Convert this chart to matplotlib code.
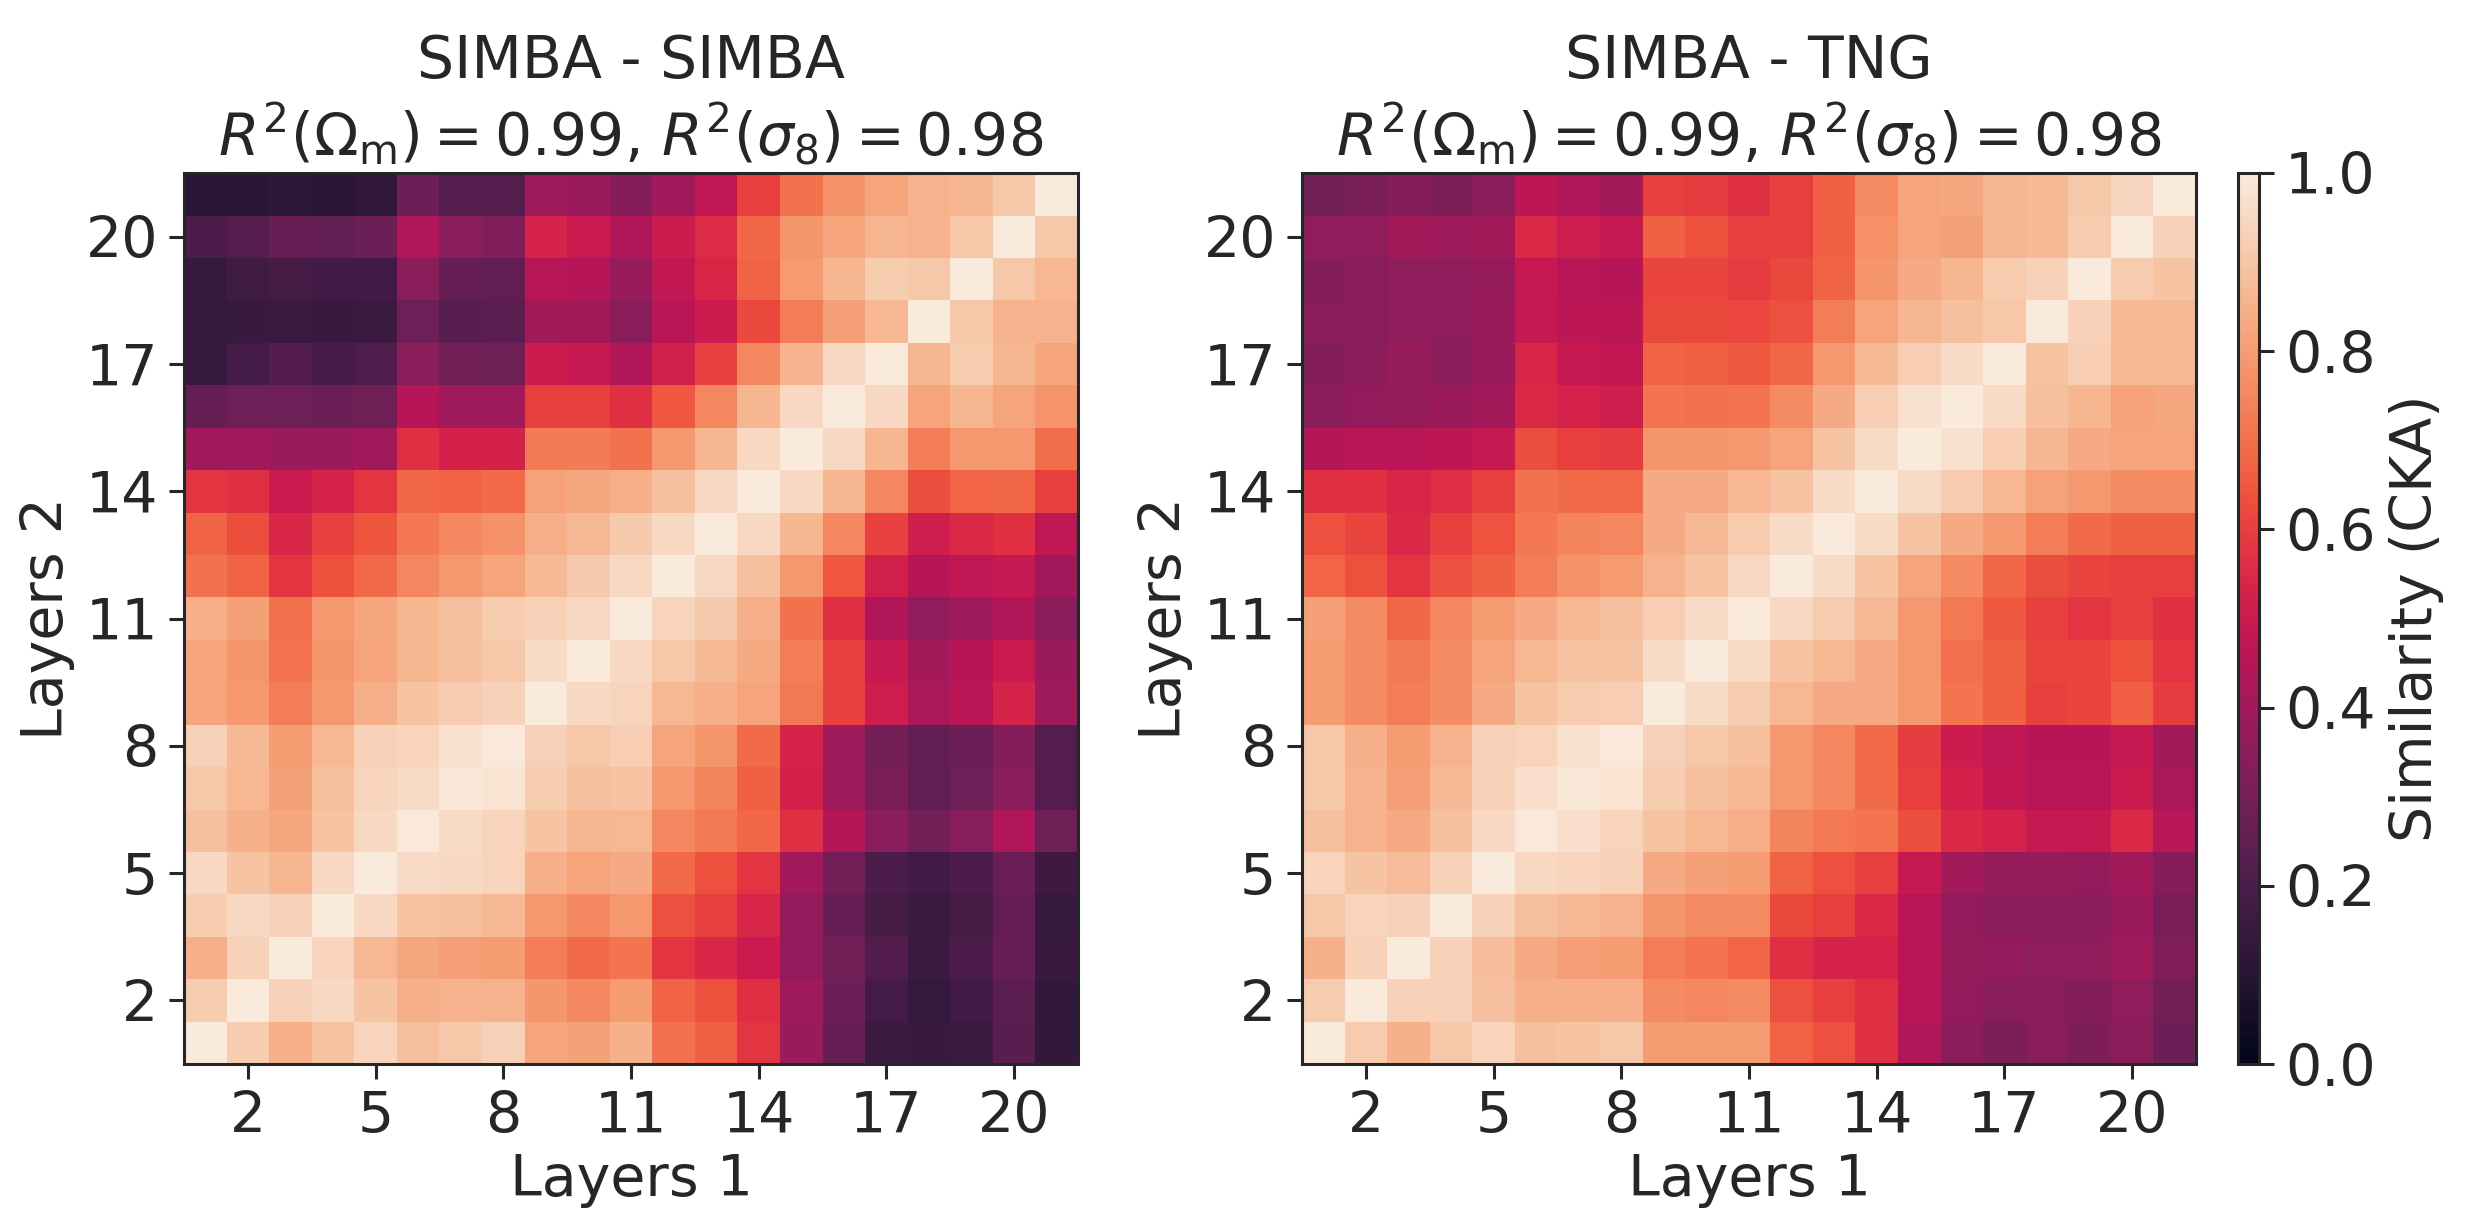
import numpy as np
import matplotlib
matplotlib.use("Agg")
import matplotlib.pyplot as plt
import seaborn as sns

sns.set_theme(style="ticks")
plt.rcParams['font.family'] = ['DejaVu Sans']
plt.rcParams['mathtext.fontset'] = 'dejavusans'

# Layer indices
layers = list(range(1, 22))
tick_layers = [2, 5, 8, 11, 14, 17, 20]

titles = ["SIMBA - SIMBA", "SIMBA - TNG"]
r2_omega = [0.99, 0.99]
r2_sigma = [0.98, 0.98]

# CKA similarity, rows = Layers 2 from 21 (top) down to 1 (bottom), columns = Layers 1 from 1 to 21
simba_simba = [
    [0.12, 0.115, 0.125, 0.12, 0.13, 0.278, 0.222, 0.222, 0.395, 0.39, 0.338, 0.40, 0.475, 0.60, 0.705, 0.775, 0.82, 0.855, 0.86, 0.91, 1.0],
    [0.20, 0.225, 0.268, 0.25, 0.27, 0.44, 0.35, 0.325, 0.535, 0.50, 0.44, 0.505, 0.555, 0.68, 0.785, 0.82, 0.86, 0.855, 0.905, 1.0, 0.91],
    [0.147, 0.168, 0.185, 0.173, 0.173, 0.345, 0.268, 0.25, 0.455, 0.453, 0.38, 0.478, 0.54, 0.675, 0.795, 0.86, 0.92, 0.905, 1.0, 0.91, 0.865],
    [0.145, 0.15, 0.16, 0.155, 0.16, 0.288, 0.233, 0.24, 0.405, 0.405, 0.355, 0.455, 0.505, 0.62, 0.73, 0.805, 0.865, 1.0, 0.91, 0.855, 0.855],
    [0.147, 0.183, 0.215, 0.188, 0.21, 0.355, 0.295, 0.285, 0.505, 0.49, 0.44, 0.52, 0.605, 0.752, 0.857, 0.95, 1.0, 0.86, 0.92, 0.86, 0.82],
    [0.258, 0.288, 0.288, 0.27, 0.285, 0.453, 0.398, 0.398, 0.60, 0.60, 0.565, 0.65, 0.752, 0.86, 0.95, 1.0, 0.95, 0.82, 0.86, 0.82, 0.78],
    [0.40, 0.40, 0.38, 0.385, 0.40, 0.565, 0.525, 0.525, 0.725, 0.725, 0.705, 0.79, 0.86, 0.95, 1.0, 0.95, 0.86, 0.73, 0.79, 0.79, 0.695],
    [0.575, 0.565, 0.50, 0.535, 0.58, 0.68, 0.672, 0.685, 0.815, 0.827, 0.845, 0.885, 0.95, 1.0, 0.95, 0.86, 0.75, 0.63, 0.677, 0.68, 0.598],
    [0.672, 0.63, 0.54, 0.605, 0.645, 0.715, 0.755, 0.775, 0.845, 0.87, 0.912, 0.95, 1.0, 0.95, 0.86, 0.75, 0.605, 0.515, 0.55, 0.567, 0.47],
    [0.705, 0.675, 0.58, 0.64, 0.685, 0.75, 0.79, 0.82, 0.87, 0.912, 0.95, 1.0, 0.95, 0.885, 0.79, 0.65, 0.52, 0.45, 0.47, 0.49, 0.40],
    [0.845, 0.81, 0.707, 0.79, 0.822, 0.86, 0.89, 0.92, 0.93, 0.95, 1.0, 0.94, 0.912, 0.845, 0.705, 0.565, 0.44, 0.365, 0.398, 0.44, 0.345],
    [0.82, 0.783, 0.71, 0.783, 0.82, 0.86, 0.89, 0.905, 0.96, 1.0, 0.95, 0.905, 0.87, 0.83, 0.728, 0.605, 0.49, 0.41, 0.45, 0.50, 0.385],
    [0.82, 0.79, 0.73, 0.79, 0.845, 0.895, 0.915, 0.935, 1.0, 0.95, 0.94, 0.865, 0.845, 0.82, 0.722, 0.605, 0.51, 0.42, 0.46, 0.535, 0.395],
    [0.933, 0.868, 0.80, 0.865, 0.935, 0.94, 0.975, 0.995, 0.933, 0.905, 0.925, 0.82, 0.782, 0.688, 0.535, 0.395, 0.293, 0.255, 0.272, 0.335, 0.222],
    [0.905, 0.865, 0.81, 0.885, 0.94, 0.96, 0.99, 0.98, 0.92, 0.885, 0.895, 0.79, 0.745, 0.67, 0.527, 0.398, 0.31, 0.25, 0.288, 0.35, 0.222],
    [0.885, 0.85, 0.827, 0.895, 0.95, 0.995, 0.96, 0.94, 0.895, 0.86, 0.865, 0.75, 0.72, 0.68, 0.565, 0.448, 0.35, 0.293, 0.343, 0.44, 0.285],
    [0.95, 0.895, 0.86, 0.95, 1.0, 0.96, 0.95, 0.94, 0.845, 0.82, 0.833, 0.688, 0.64, 0.578, 0.40, 0.293, 0.20, 0.175, 0.20, 0.27, 0.165],
    [0.92, 0.95, 0.935, 1.0, 0.95, 0.895, 0.89, 0.87, 0.79, 0.757, 0.79, 0.635, 0.60, 0.537, 0.373, 0.268, 0.185, 0.16, 0.185, 0.258, 0.143],
    [0.845, 0.935, 1.0, 0.94, 0.865, 0.822, 0.808, 0.80, 0.73, 0.69, 0.71, 0.575, 0.545, 0.50, 0.373, 0.29, 0.218, 0.16, 0.20, 0.268, 0.15],
    [0.92, 1.0, 0.935, 0.95, 0.895, 0.845, 0.855, 0.855, 0.788, 0.757, 0.80, 0.672, 0.64, 0.565, 0.395, 0.278, 0.18, 0.143, 0.175, 0.24, 0.135],
    [1.0, 0.92, 0.845, 0.895, 0.94, 0.885, 0.905, 0.933, 0.82, 0.81, 0.85, 0.707, 0.67, 0.578, 0.39, 0.268, 0.16, 0.15, 0.16, 0.23, 0.135],
]

simba_tng = [
    [0.29, 0.31, 0.338, 0.322, 0.347, 0.465, 0.432, 0.41, 0.60, 0.59, 0.565, 0.60, 0.67, 0.76, 0.82, 0.828, 0.86, 0.872, 0.91, 0.945, 1.0],
    [0.365, 0.365, 0.405, 0.395, 0.41, 0.55, 0.51, 0.492, 0.67, 0.64, 0.605, 0.60, 0.67, 0.77, 0.82, 0.81, 0.86, 0.872, 0.915, 1.0, 0.935],
    [0.335, 0.345, 0.36, 0.36, 0.378, 0.49, 0.455, 0.45, 0.612, 0.612, 0.59, 0.62, 0.675, 0.782, 0.835, 0.86, 0.915, 0.935, 1.0, 0.915, 0.895],
    [0.345, 0.345, 0.36, 0.36, 0.385, 0.49, 0.465, 0.465, 0.62, 0.62, 0.615, 0.635, 0.73, 0.82, 0.86, 0.885, 0.905, 1.0, 0.935, 0.87, 0.87],
    [0.335, 0.355, 0.378, 0.355, 0.385, 0.537, 0.49, 0.48, 0.675, 0.67, 0.655, 0.68, 0.79, 0.87, 0.925, 0.96, 1.0, 0.895, 0.925, 0.87, 0.87],
    [0.355, 0.373, 0.378, 0.385, 0.41, 0.55, 0.53, 0.515, 0.71, 0.705, 0.71, 0.76, 0.835, 0.925, 0.975, 1.0, 0.96, 0.885, 0.86, 0.815, 0.828],
    [0.448, 0.458, 0.458, 0.465, 0.492, 0.63, 0.60, 0.59, 0.785, 0.785, 0.79, 0.82, 0.895, 0.96, 1.0, 0.975, 0.925, 0.86, 0.835, 0.82, 0.82],
    [0.57, 0.568, 0.537, 0.56, 0.60, 0.707, 0.69, 0.69, 0.835, 0.835, 0.865, 0.895, 0.96, 1.0, 0.96, 0.915, 0.865, 0.815, 0.79, 0.765, 0.76],
    [0.635, 0.612, 0.55, 0.605, 0.643, 0.715, 0.745, 0.75, 0.835, 0.87, 0.915, 0.96, 1.0, 0.96, 0.895, 0.835, 0.79, 0.73, 0.69, 0.67, 0.67],
    [0.677, 0.64, 0.58, 0.635, 0.67, 0.73, 0.775, 0.795, 0.855, 0.895, 0.95, 1.0, 0.96, 0.895, 0.82, 0.76, 0.68, 0.63, 0.612, 0.60, 0.60],
    [0.805, 0.76, 0.68, 0.75, 0.80, 0.835, 0.865, 0.885, 0.925, 0.96, 1.0, 0.95, 0.915, 0.87, 0.79, 0.72, 0.655, 0.605, 0.58, 0.60, 0.565],
    [0.80, 0.76, 0.72, 0.76, 0.82, 0.865, 0.895, 0.895, 0.96, 1.0, 0.96, 0.895, 0.865, 0.835, 0.79, 0.70, 0.67, 0.61, 0.61, 0.64, 0.58],
    [0.80, 0.76, 0.73, 0.765, 0.835, 0.895, 0.915, 0.925, 1.0, 0.96, 0.92, 0.865, 0.835, 0.835, 0.79, 0.71, 0.67, 0.605, 0.61, 0.665, 0.59],
    [0.905, 0.85, 0.80, 0.855, 0.935, 0.94, 0.975, 0.995, 0.933, 0.905, 0.89, 0.79, 0.75, 0.69, 0.59, 0.505, 0.47, 0.45, 0.45, 0.492, 0.41],
    [0.905, 0.855, 0.808, 0.872, 0.935, 0.965, 0.99, 0.98, 0.92, 0.89, 0.865, 0.79, 0.75, 0.69, 0.60, 0.525, 0.48, 0.455, 0.455, 0.505, 0.42],
    [0.883, 0.855, 0.835, 0.89, 0.95, 0.995, 0.965, 0.94, 0.895, 0.865, 0.84, 0.745, 0.72, 0.71, 0.63, 0.55, 0.53, 0.49, 0.49, 0.55, 0.455],
    [0.94, 0.895, 0.878, 0.935, 1.0, 0.95, 0.94, 0.935, 0.835, 0.81, 0.80, 0.672, 0.635, 0.60, 0.49, 0.41, 0.378, 0.378, 0.373, 0.41, 0.338],
    [0.905, 0.94, 0.935, 1.0, 0.935, 0.89, 0.87, 0.855, 0.785, 0.76, 0.76, 0.62, 0.60, 0.55, 0.455, 0.373, 0.35, 0.355, 0.355, 0.385, 0.312],
    [0.85, 0.935, 1.0, 0.935, 0.88, 0.835, 0.805, 0.80, 0.73, 0.708, 0.677, 0.565, 0.535, 0.53, 0.455, 0.378, 0.373, 0.36, 0.36, 0.395, 0.325],
    [0.915, 1.0, 0.935, 0.935, 0.885, 0.845, 0.845, 0.845, 0.76, 0.75, 0.76, 0.635, 0.605, 0.565, 0.455, 0.373, 0.345, 0.345, 0.335, 0.36, 0.295],
    [1.0, 0.915, 0.85, 0.905, 0.94, 0.883, 0.895, 0.905, 0.80, 0.80, 0.80, 0.672, 0.635, 0.565, 0.44, 0.355, 0.318, 0.345, 0.322, 0.355, 0.278],
]

matrices = [simba_simba, simba_tng]

text_color = "#262626"
W, H = 2465, 1229
dpi = 200
fig = plt.figure(figsize=(W / dpi, H / dpi), dpi=dpi)

ax_lefts = [184 / W, 1302 / W]
ax_bottom = 1 - 1064 / H
ax_w = 894 / W
ax_h = (1064 - 173) / H

cmap = plt.get_cmap("rocket")
fs = 20.5
fs_title = 21
fs_cbar_label = 20.5

im = None
for k in range(2):
    ax = fig.add_axes([ax_lefts[k], ax_bottom, ax_w, ax_h])
    data = np.array(matrices[k])[::-1]  # row 0 -> layer 1
    im = ax.imshow(data, cmap=cmap, vmin=0, vmax=1, origin="lower",
                   extent=(layers[0] - 0.5, layers[-1] + 0.5, layers[0] - 0.5, layers[-1] + 0.5),
                   aspect="auto", interpolation="nearest")
    ax.set_xticks(tick_layers)
    ax.set_yticks(tick_layers)
    ax.set_xticklabels([str(t) for t in tick_layers], fontsize=fs, color=text_color)
    ax.set_yticklabels([str(t) for t in tick_layers], fontsize=fs, color=text_color)
    ax.tick_params(direction="out", length=5.3, width=1.1, color=text_color, pad=4)
    for sp in ax.spines.values():
        sp.set_color(text_color)
        sp.set_linewidth(1.1)
    ax.set_xlabel("Layers 1", fontsize=fs, color=text_color, labelpad=3)
    ax.set_ylabel("Layers 2", fontsize=fs, color=text_color, labelpad=4)
    title = (titles[k] + "\n" + r"$R^2(\Omega_{\rm m}) = $" + f"{r2_omega[k]:.2f}" + ", "
             + r"$R^2(\sigma_8) = $" + f"{r2_sigma[k]:.2f}")
    ax.set_title(title, fontsize=fs_title, color=text_color, pad=6, linespacing=1.2)

cax = fig.add_axes([2238 / W, ax_bottom, 21 / W, ax_h])
cb = fig.colorbar(im, cax=cax)
cb.set_ticks([0.0, 0.2, 0.4, 0.6, 0.8, 1.0])
cb.ax.tick_params(labelsize=fs, labelcolor=text_color, length=5.3, width=1.1, color=text_color, pad=4)
cb.outline.set_edgecolor(text_color)
cb.outline.set_linewidth(1.1)
cb.set_label("Similarity (CKA)", fontsize=fs_cbar_label, color=text_color, labelpad=5)

fig.savefig("out.png", dpi=dpi)
